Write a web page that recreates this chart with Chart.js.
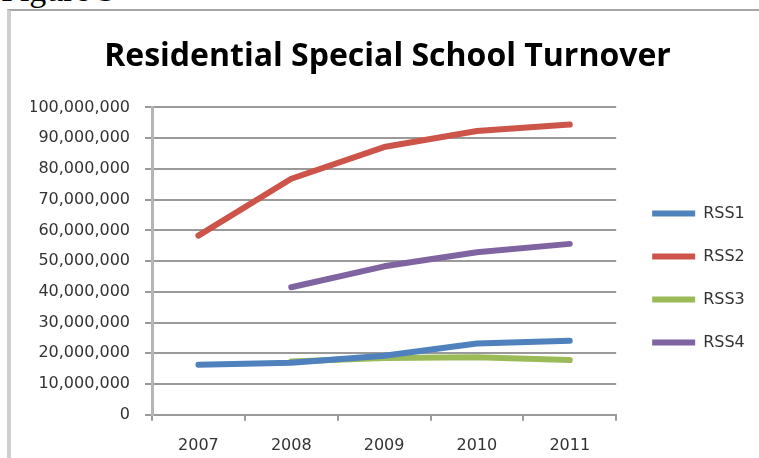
<!DOCTYPE html>
<html>
<head>
<meta charset="utf-8">
<script src="https://cdn.jsdelivr.net/npm/chart.js@4"></script>
<style>
  body { margin: 0; background: #fff; width: 759px; height: 458px; overflow: hidden; position: relative; }
  #caption {
    position: absolute; left: 1px; top: -27px;
    font: 34px "Liberation Serif", serif; color: #000; line-height: 34px;
  }
  #frame {
    position: absolute; left: 7px; top: 9px; width: 752px; height: 464px;
    border-left: 4px solid #cfcfcf; border-top: 2px solid #a6a6a6;
    box-sizing: border-box;
  }
  #wrap { position: absolute; left: 0; top: 0; width: 748px; height: 459px; }
</style>
</head>
<body>
<div id="caption">Figure 3</div>
<div id="frame">
  <div id="wrap"><canvas id="turnover"></canvas></div>
</div>
<script>
// Annual turnover per school
const years = ['2007', '2008', '2009', '2010', '2011'];
const seriesNames = ['RSS1', 'RSS2', 'RSS3', 'RSS4'];
const rss1 = [16300000, 16900000, 19200000, 23200000, 24100000];
const rss2 = [58300000, 76800000, 87100000, 92300000, 94400000];
const rss3 = [null, 17300000, 18500000, 18700000, 17800000];
const rss4 = [null, 41500000, 48300000, 52900000, 55600000];
const seriesColors = ['#4F81BD', '#CD5449', '#9BBB59', '#8064A2'];
const yTicks = [0, 10000000, 20000000, 30000000, 40000000, 50000000,
  60000000, 70000000, 80000000, 90000000, 100000000];

const axisFont = { family: 'DejaVu Sans', size: 16 };
const gridGray = '#9a9a9a';

const datasets = [rss1, rss2, rss3, rss4].map((values, i) => ({
  label: seriesNames[i],
  data: values,
  borderColor: seriesColors[i],
  backgroundColor: seriesColors[i],
  borderWidth: 6,
  borderCapStyle: 'round',
  borderJoinStyle: 'round',
  pointRadius: 0,
  tension: 0
}));

new Chart(document.getElementById('turnover'), {
  type: 'line',
  data: { labels: years, datasets: datasets },
  options: {
    responsive: true,
    maintainAspectRatio: false,
    animation: false,
    layout: { padding: { left: 20, right: 15, bottom: 0 } },
    plugins: {
      title: {
        display: true,
        text: 'Residential Special School Turnover',
        color: '#000',
        font: { family: 'Open Sans', size: 32, weight: 'bold' },
        padding: { top: 27, bottom: 31 }
      },
      legend: {
        position: 'right',
        // empty title only pushes the entries down
        title: { display: true, text: ' ', font: { size: 16 }, padding: { top: 0, bottom: 56 } },
        labels: {
          usePointStyle: true,
          pointStyle: 'line',
          pointStyleWidth: 43,
          color: '#333',
          font: axisFont,
          padding: 27
        }
      },
      tooltip: { enabled: false }
    },
    scales: {
      x: {
        offset: true,
        grid: {
          offset: true,
          drawOnChartArea: false,
          drawTicks: true,
          tickLength: 6,
          color: gridGray,
          lineWidth: 2
        },
        border: { color: gridGray, width: 2 },
        ticks: { color: '#333', font: axisFont, padding: 15, maxRotation: 0 }
      },
      y: {
        min: 0,
        max: 100000000,
        afterBuildTicks: (scale) => { scale.ticks = yTicks.map(v => ({ value: v })); },
        afterFit: (scale) => { scale.width = 121; },
        grid: { color: gridGray, lineWidth: 2, tickLength: 7 },
        border: { color: '#b5b5b5', width: 3 },
        ticks: {
          color: '#333',
          font: axisFont,
          padding: 15,
          callback: (v) => Number(v).toLocaleString('en-US')
        }
      },
      // blank strip between the plot and the legend
      gap: {
        position: 'right',
        display: true,
        grid: { display: false },
        border: { display: false },
        ticks: { display: false },
        afterFit: (scale) => { scale.width = 9; }
      }
    }
  }
});
</script>
</body>
</html>
